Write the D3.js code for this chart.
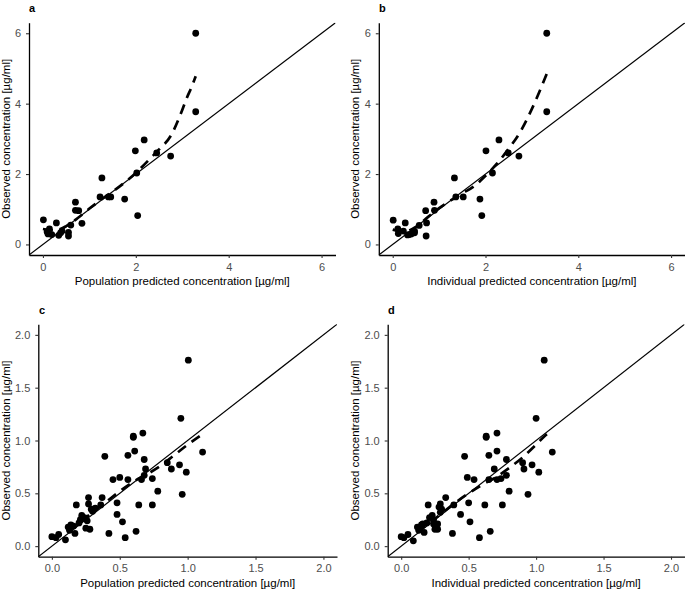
<!DOCTYPE html>
<html><head><meta charset="utf-8">
<script src="https://cdn.jsdelivr.net/npm/d3@7"></script>
<style>
body{margin:0;background:#fff;}
svg{display:block;font-family:"Liberation Sans",Arial,Helvetica,sans-serif;}
</style></head>
<body>
<svg id="chart" width="685" height="589"></svg>
<script>
// ---------- data ----------
const panelLetters = ["a","b","c","d"];
const xLabels = ["Population predicted concentration [µg/ml]","Individual predicted concentration [µg/ml]",
                 "Population predicted concentration [µg/ml]","Individual predicted concentration [µg/ml]"];
const yLabel = "Observed concentration [µg/ml]";
const ticksTop = [0,2,4,6];
const ticksBottom = [0,0.5,1,1.5,2];

const aPred = [0.01,0.09,0.14,0.11,0.19,0.29,0.34,0.41,0.55,0.55,0.60,0.70,0.70,0.77,0.84,1.23,1.27,1.41,1.46,1.76,1.99,2.02,2.04,2.18,2.45,2.75,3.29,3.29,0.38];
const aObs  = [0.70,0.36,0.44,0.30,0.28,0.61,0.26,0.38,0.34,0.24,0.55,1.20,0.97,0.96,0.60,1.35,1.89,1.35,1.35,1.29,2.66,2.03,0.82,2.97,2.60,2.51,6.00,3.77,0.33];
const aSmoothX = [0,0.25,0.5,0.75,1.0,1.25,1.5,1.75,2.0,2.25,2.5,2.75,3.0,3.1,3.2,3.29];
const aSmoothY = [0.44,0.40,0.52,0.75,1.02,1.27,1.50,1.75,2.03,2.36,2.70,3.08,3.82,4.17,4.47,4.78];

const bPred = [0.01,0.11,0.12,0.27,0.23,0.32,0.40,0.47,0.47,0.57,0.71,0.73,0.72,0.89,0.90,1.33,1.36,1.52,1.88,1.92,2.01,2.15,2.29,2.49,2.72,3.32,3.32,0.36];
const bObs  = [0.69,0.44,0.31,0.61,0.38,0.27,0.30,0.38,0.33,0.54,0.96,0.61,0.24,1.20,0.97,1.89,1.35,1.35,1.29,0.82,2.66,2.03,2.97,2.60,2.51,6.00,3.77,0.28];
const bSmoothX = [0,0.25,0.5,0.75,1.0,1.25,1.5,1.75,2.0,2.25,2.5,2.75,3.0,3.32];
const bSmoothY = [0.42,0.36,0.50,0.77,1.03,1.25,1.45,1.65,1.95,2.30,2.72,3.20,3.85,4.85];

const cPred = [0.00,0.03,0.05,0.10,0.12,0.13,0.14,0.16,0.17,0.18,0.20,0.21,0.22,0.24,0.25,0.26,0.27,0.27,0.28,0.29,0.30,0.32,0.36,0.37,0.39,0.42,0.45,0.48,0.48,0.50,0.52,0.54,0.56,0.56,0.60,0.60,0.61,0.62,0.64,0.67,0.68,0.69,0.66,0.68,0.74,0.74,0.78,0.85,0.88,0.94,0.95,0.96,0.99,1.11,1.005];
const cObs  = [0.09,0.08,0.11,0.06,0.18,0.15,0.20,0.19,0.12,0.39,0.22,0.25,0.29,0.27,0.17,0.24,0.46,0.40,0.16,0.35,0.33,0.36,0.39,0.46,0.85,0.12,0.63,0.41,0.30,0.65,0.23,0.08,0.86,0.63,1.04,1.03,0.90,0.14,0.39,1.07,0.82,0.73,0.63,0.67,0.64,0.39,0.52,0.79,0.73,0.77,1.21,0.49,0.70,0.89,1.76];
const cSmoothX = [0,0.1,0.2,0.3,0.4,0.5,0.6,0.7,0.8,0.9,1.0,1.11];
const cSmoothY = [0.08,0.13,0.22,0.32,0.42,0.52,0.61,0.68,0.76,0.86,0.96,1.06];

const dPred = [0.00,0.02,0.05,0.09,0.12,0.13,0.15,0.16,0.17,0.20,0.19,0.21,0.23,0.24,0.25,0.24,0.33,0.29,0.27,0.28,0.29,0.30,0.39,0.27,0.47,0.38,0.49,0.50,0.44,0.54,0.51,0.58,0.65,0.65,0.63,0.63,0.71,0.66,0.62,0.71,0.78,0.69,0.71,0.78,0.74,0.75,0.80,0.90,0.91,0.97,1.00,0.94,1.02,1.12,1.06];
const dObs  = [0.09,0.08,0.11,0.05,0.18,0.15,0.20,0.21,0.13,0.39,0.22,0.27,0.29,0.25,0.16,0.21,0.46,0.40,0.16,0.37,0.32,0.35,0.39,0.21,0.85,0.12,0.65,0.41,0.30,0.63,0.23,0.08,0.86,0.63,1.04,1.03,0.90,0.14,0.39,1.07,0.82,0.73,0.63,0.67,0.64,0.39,0.52,0.79,0.73,0.77,1.21,0.49,0.70,0.89,1.76];
const dSmoothX = [0,0.1,0.2,0.3,0.4,0.5,0.6,0.7,0.8,0.9,1.0,1.07,1.12];
const dSmoothY = [0.08,0.12,0.21,0.31,0.41,0.50,0.58,0.65,0.74,0.84,0.96,1.05,1.10];

// ---------- layout ----------
const panels = [
  {id:0, L:29,    R:335.5, T:22.7,  B:255,   dom:[-0.3,6.3], ticks:ticksTop,    fmt:d3.format("d"),   px:aPred, py:aObs, sx:aSmoothX, sy:aSmoothY, letterX:29,  letterY:12,  ytX:10},
  {id:1, L:378.8, R:685,   T:22.7,  B:255,   dom:[-0.3,6.3], ticks:ticksTop,    fmt:d3.format("d"),   px:bPred, py:bObs, sx:bSmoothX, sy:bSmoothY, letterX:379, letterY:12,  ytX:358.5},
  {id:2, L:38.3,  R:337,   T:324.3, B:556.7, dom:[-0.1,2.1], ticks:ticksBottom, fmt:d3.format(".1f"), px:cPred, py:cObs, sx:cSmoothX, sy:cSmoothY, letterX:39,  letterY:314, ytX:10},
  {id:3, L:387.7, R:684.5, T:324.3, B:556.7, dom:[-0.1,2.1], ticks:ticksBottom, fmt:d3.format(".1f"), px:dPred, py:dObs, sx:dSmoothX, sy:dSmoothY, letterX:388, letterY:314, ytX:358.5}
];

const svg = d3.select("#chart");
const defs = svg.append("defs");

panels.forEach(p => {
  const x = d3.scaleLinear().domain(p.dom).range([p.L, p.R]);
  const y = d3.scaleLinear().domain(p.dom).range([p.B, p.T]);
  const g = svg.append("g");

  defs.append("clipPath").attr("id","clip"+p.id)
    .append("rect").attr("x",p.L).attr("y",p.T).attr("width",p.R-p.L).attr("height",p.B-p.T);

  const plot = g.append("g").attr("clip-path","url(#clip"+p.id+")");

  // points
  plot.selectAll("circle").data(p.px.map((v,i)=>[v,p.py[i]])).join("circle")
    .attr("cx",d=>x(d[0])).attr("cy",d=>y(d[1])).attr("r",3.4).attr("fill","#000");

  // identity line
  plot.append("line")
    .attr("x1",x(p.dom[0])).attr("y1",y(p.dom[0]))
    .attr("x2",x(p.dom[1])).attr("y2",y(p.dom[1]))
    .attr("stroke","#000").attr("stroke-width",1.2);

  // smoother (dashed)
  const line = d3.line().x(d=>x(d[0])).y(d=>y(d[1])).curve(d3.curveMonotoneX);
  plot.append("path").datum(p.sx.map((v,i)=>[v,p.sy[i]]))
    .attr("d",line).attr("fill","none").attr("stroke","#000")
    .attr("stroke-width",2.7).attr("stroke-dasharray","10,7");

  // axes
  const xa = g.append("g").attr("transform",`translate(0,${p.B})`)
    .call(d3.axisBottom(x).tickValues(p.ticks).tickFormat(p.fmt).tickSize(3).tickSizeOuter(0).tickPadding(5));
  const ya = g.append("g").attr("transform",`translate(${p.L},0)`)
    .call(d3.axisLeft(y).tickValues(p.ticks).tickFormat(p.fmt).tickSize(3).tickSizeOuter(0).tickPadding(5));
  [xa,ya].forEach(a=>{
    a.select(".domain").attr("stroke","#000").attr("stroke-width",1.3);
    a.selectAll(".tick line").attr("stroke","#333").attr("stroke-width",1.1);
    a.selectAll(".tick text").attr("fill","#4d4d4d").attr("font-size",11)
      .attr("font-family","Liberation Sans, Arial, sans-serif");
  });

  // axis titles
  g.append("text").attr("x",(p.L+p.R)/2).attr("y",p.B+30)
    .attr("text-anchor","middle").attr("font-size",11.5).attr("fill","#000")
    .text(xLabels[p.id]);
  g.append("text").attr("transform",`translate(${p.ytX},${(p.T+p.B)/2}) rotate(-90)`)
    .attr("text-anchor","middle").attr("font-size",11.5).attr("fill","#000")
    .text(yLabel);

  // panel letter
  g.append("text").attr("x",p.letterX).attr("y",p.letterY)
    .attr("font-size",11).attr("font-weight","bold").attr("fill","#000")
    .text(panelLetters[p.id]);
});
</script>
</body></html>
